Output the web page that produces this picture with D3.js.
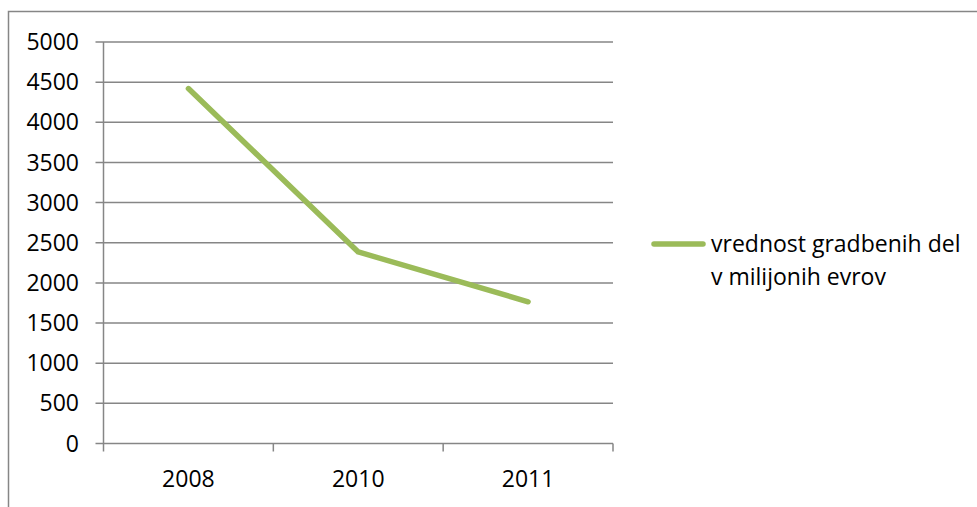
<!DOCTYPE html>
<html>
<head>
<meta charset="utf-8">
<script src="https://cdn.jsdelivr.net/npm/d3@7"></script>
<style>
  html, body { margin: 0; padding: 0; background: #fff; }
  svg { display: block; }
  text { font-family: "Open Sans", "Noto Sans", sans-serif; fill: #000; }
</style>
</head>
<body>
<script>
// Construction output in Slovenia (million EUR)
const years = ["2008", "2010", "2011"];
const values = [4420, 2385, 1765];
const yTicks = [0, 500, 1000, 1500, 2000, 2500, 3000, 3500, 4000, 4500, 5000];
const seriesName = ["vrednost gradbenih del", "v milijonih evrov"];

const W = 977, H = 507;
const plot = { left: 103.5, right: 613, top: 42, bottom: 443.5 };
const grey = "#868686";
const green = "#9BBB59";
const fontSize = 23;

const svg = d3.select("body").append("svg")
  .attr("width", W).attr("height", H);

// outer chart frame
svg.append("rect")
  .attr("x", 8.5).attr("y", 11.5)
  .attr("width", W).attr("height", H)
  .attr("fill", "none").attr("stroke", grey).attr("stroke-width", 1.5);

const x = d3.scaleBand().domain(years).range([plot.left, plot.right]);
const y = d3.scaleLinear().domain([0, 5000]).range([plot.bottom, plot.top]);

// horizontal gridlines with left tick stubs
svg.append("g").selectAll("line").data(yTicks).join("line")
  .attr("x1", plot.left - 8).attr("x2", plot.right)
  .attr("y1", d => y(d)).attr("y2", d => y(d))
  .attr("stroke", grey).attr("stroke-width", 1.5);

// y axis line
svg.append("line")
  .attr("x1", plot.left).attr("x2", plot.left)
  .attr("y1", plot.top).attr("y2", plot.bottom + 8)
  .attr("stroke", grey).attr("stroke-width", 1.5);

// category boundary ticks
const bounds = years.map(d => x(d)).concat([plot.right]);
svg.append("g").selectAll("line").data(bounds.slice(1)).join("line")
  .attr("x1", d => d).attr("x2", d => d)
  .attr("y1", plot.bottom).attr("y2", plot.bottom + 8)
  .attr("stroke", grey).attr("stroke-width", 1.5);

// y tick labels
svg.append("g").selectAll("text").data(yTicks).join("text")
  .attr("x", 79).attr("y", d => y(d))
  .attr("dy", "0.35em")
  .attr("text-anchor", "end")
  .attr("font-size", fontSize)
  .text(d => d);

// x tick labels
svg.append("g").selectAll("text").data(years).join("text")
  .attr("x", d => x(d) + x.bandwidth() / 2).attr("y", 487)
  .attr("text-anchor", "middle")
  .attr("font-size", fontSize)
  .text(d => d);

// series line
const line = d3.line()
  .x((d, i) => x(years[i]) + x.bandwidth() / 2)
  .y(d => y(d));
svg.append("path")
  .datum(values)
  .attr("d", line)
  .attr("fill", "none")
  .attr("stroke", green)
  .attr("stroke-width", 5.5)
  .attr("stroke-linecap", "round")
  .attr("stroke-linejoin", "round");

// legend
svg.append("line")
  .attr("x1", 654).attr("x2", 703)
  .attr("y1", 244).attr("y2", 244)
  .attr("stroke", green).attr("stroke-width", 5.5)
  .attr("stroke-linecap", "round");
svg.append("text")
  .attr("x", 711).attr("y", 251.5)
  .attr("font-size", fontSize)
  .text(seriesName[0]);
svg.append("text")
  .attr("x", 711).attr("y", 285)
  .attr("font-size", fontSize)
  .text(seriesName[1]);
</script>
</body>
</html>
